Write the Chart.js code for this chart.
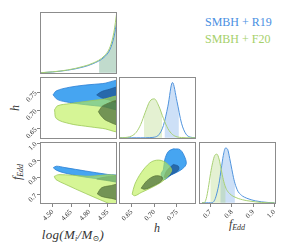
<!DOCTYPE html>
<html>
<head>
<meta charset="utf-8">
<script src="https://cdn.jsdelivr.net/npm/chart.js@4.4.1/dist/chart.umd.min.js"></script>
<style>
  html, body { margin: 0; padding: 0; background: #fff; }
  #fig { position: relative; width: 285px; height: 244px; overflow: hidden; font-family: 'Liberation Serif', 'DejaVu Serif', serif; }
  #fig canvas { position: absolute; }
  .axlab { position: absolute; font-style: italic; font-weight: normal; font-size: 12px; color: #333; white-space: nowrap; line-height: 1; transform: translate(-50%, -50%); }
  .axlab.rot { transform: translate(-50%, -50%) rotate(-90deg); }
  .axlab sub { font-size: 8px; vertical-align: -2px; line-height: 0; }
  .legend { position: absolute; left: 205px; font-size: 12px; line-height: 1; white-space: nowrap; }
</style>
</head>
<body>
<div id="fig">
  <div class="legend" style="top:16px;color:#4a90e2">SMBH + R19</div>
  <div class="legend" style="top:33px;color:#a5d06a">SMBH + F20</div>
  <div class="axlab" style="left:73px;top:234px;font-size:13px;letter-spacing:0.3px">log(M<sub>i</sub>/M<sub>⊙</sub>)</div>
  <div class="axlab" style="left:157px;top:228px">h</div>
  <div class="axlab" style="left:237px;top:224px">f<sub>Edd</sub></div>
  <div class="axlab rot" style="left:15px;top:108px">h</div>
  <div class="axlab rot" style="left:17px;top:172px">f<sub>Edd</sub></div>
</div>
<script>
// axis ranges and ticks
const massRange = [4.396, 5.026];
const hRange = [0.622, 0.792];
const eddRange = [0.646, 1.007];
const densRange = [-0.02, 1.0];
const massTicks = [4.50, 4.65, 4.80, 4.95];
const hTicks = [0.65, 0.70, 0.75];
const eddTicks = [0.7, 0.8, 0.9, 1.0];

// 1D marginals (x grid, density per run) and shaded 68% bands
const massGrid = [4.396, 4.50, 4.62, 4.75, 4.83, 4.92, 4.97, 5.00, 5.026];
const massR19 = [0.0, 0.014, 0.042, 0.095, 0.15, 0.255, 0.39, 0.58, 0.86];
const massF20 = [0.0, 0.016, 0.046, 0.105, 0.16, 0.275, 0.43, 0.66, 1.02];
const massBand = [4.88, 5.026];

const hGrid = [0.62, 0.63, 0.64, 0.65, 0.66, 0.67, 0.68, 0.69, 0.70, 0.71, 0.72, 0.73, 0.74, 0.75, 0.76, 0.77, 0.78, 0.79];
const hR19 = [0, 0, 0, 0, 0, 0, 0, 0.003, 0.01, 0.05, 0.20, 0.52, 0.91, 0.60, 0.24, 0.06, 0.01, 0];
const hF20 = [0, 0.002, 0.008, 0.03, 0.09, 0.22, 0.42, 0.60, 0.64, 0.52, 0.32, 0.15, 0.055, 0.015, 0.004, 0, 0, 0];
const hBandR19 = [0.723, 0.754];
const hBandF20 = [0.677, 0.717];

const eddGrid = [0.66, 0.67, 0.68, 0.69, 0.70, 0.71, 0.72, 0.73, 0.74, 0.75, 0.76, 0.77, 0.78, 0.79, 0.80, 0.81, 0.82, 0.83, 0.84, 0.85, 0.87, 0.89, 0.91, 0.94, 0.97, 1.00];
const eddR19 = [0, 0, 0, 0, 0, 0.005, 0.05, 0.16, 0.32, 0.55, 0.78, 0.90, 0.88, 0.73, 0.55, 0.38, 0.26, 0.18, 0.14, 0.11, 0.075, 0.05, 0.032, 0.015, 0.005, 0];
const eddF20 = [0, 0, 0.07, 0.25, 0.48, 0.66, 0.78, 0.80, 0.72, 0.55, 0.38, 0.26, 0.19, 0.15, 0.12, 0.10, 0.085, 0.07, 0.06, 0.05, 0.035, 0.025, 0.015, 0.005, 0, 0];
const eddBandR19 = [0.747, 0.814];
const eddBandF20 = [0.700, 0.770];

// 2D contours, [x, y] vertices of the 95% (outer) and 68% (inner) regions
const hMassR19Outer = [[4.503, 0.743], [4.53, 0.754], [4.64, 0.764], [4.77, 0.770], [4.91, 0.774], [5.06, 0.780], [5.06, 0.705], [4.91, 0.711], [4.77, 0.716], [4.64, 0.722], [4.54, 0.730]];
const hMassR19Inner = [[4.86, 0.743], [4.90, 0.752], [4.95, 0.757], [5.06, 0.764], [5.06, 0.722], [4.95, 0.730], [4.90, 0.735]];
const hMassF20Outer = [[4.515, 0.702], [4.54, 0.713], [4.64, 0.719], [4.77, 0.725], [4.91, 0.731], [5.06, 0.736], [5.06, 0.645], [4.91, 0.651], [4.77, 0.657], [4.64, 0.664], [4.53, 0.678]];
const hMassF20Inner = [[4.874, 0.697], [4.915, 0.714], [5.06, 0.726], [5.06, 0.662], [4.943, 0.672], [4.90, 0.684]];

const eddMassR19Outer = [[4.505, 0.857], [4.53, 0.866], [4.60, 0.858], [4.77, 0.838], [4.95, 0.818], [5.06, 0.808], [5.06, 0.772], [4.95, 0.786], [4.77, 0.802], [4.60, 0.826], [4.53, 0.843]];
const eddMassR19Inner = [[4.86, 0.792], [4.93, 0.803], [5.06, 0.810], [5.06, 0.776], [4.93, 0.784]];
const eddMassF20Outer = [[4.513, 0.807], [4.55, 0.817], [4.77, 0.808], [5.06, 0.798], [5.06, 0.62], [4.99, 0.64], [4.77, 0.707], [4.60, 0.762], [4.527, 0.788]];
const eddMassF20Inner = [[4.865, 0.705], [4.90, 0.740], [4.97, 0.752], [5.06, 0.760], [5.06, 0.675], [4.97, 0.680], [4.90, 0.690]];

const eddHR19Outer = [[0.742, 0.967], [0.757, 0.962], [0.768, 0.914], [0.770, 0.876], [0.758, 0.843], [0.738, 0.816], [0.720, 0.787], [0.715, 0.820], [0.720, 0.847], [0.723, 0.904], [0.731, 0.952]];
const eddHR19Inner = [[0.742, 0.876], [0.753, 0.866], [0.753, 0.843], [0.738, 0.818], [0.723, 0.799], [0.727, 0.838]];
const eddHF20Outer = [[0.651, 0.703], [0.657, 0.761], [0.671, 0.828], [0.690, 0.885], [0.705, 0.901], [0.720, 0.895], [0.734, 0.866], [0.738, 0.838], [0.723, 0.789], [0.701, 0.751], [0.671, 0.713], [0.657, 0.694]];
const eddHF20Inner = [[0.671, 0.738], [0.683, 0.780], [0.701, 0.809], [0.717, 0.803], [0.716, 0.780], [0.697, 0.751], [0.679, 0.732]];

// colours
const BLUE_LINE = '#4f93dd', BLUE_SHADE = 'rgba(74,144,226,0.28)';
const GREEN_LINE = '#a8d073', GREEN_SHADE = 'rgba(165,208,106,0.30)';
const BLUE_OUT = ['rgba(50,155,240,0.9)', '#2b7fd4'];
const BLUE_IN = ['rgba(35,95,160,0.85)', '#1f5a99'];
const GREEN_OUT = ['rgba(187,238,80,0.6)', '#9cc958'];
const GREEN_IN = ['rgba(49,83,42,0.6)', '#5d7a3a'];

// clip a dataset (fill and line) to the x interval given in dataset.band
const bandClip = {
    id: 'bandClip',
    beforeDatasetDraw(chart, args) {
        const range = chart.data.datasets[args.index].band;
        if (!range) return;
        const {ctx, chartArea: a, scales: {x}} = chart;
        const x0 = x.getPixelForValue(range[0]);
        const x1 = x.getPixelForValue(range[1]);
        ctx.save();
        ctx.beginPath();
        ctx.rect(x0, a.top, x1 - x0, a.bottom - a.top);
        ctx.clip();
    },
    afterDatasetDraw(chart, args) {
        if (chart.data.datasets[args.index].band) chart.ctx.restore();
    }
};
// the filler must come after the clip so the band fill gets clipped too
Chart.unregister(Chart.Filler);
Chart.register(bandClip, Chart.Filler);

const frame = {
    id: 'frame',
    afterDraw(chart) {
        const {ctx, chartArea: a} = chart;
        ctx.save();
        ctx.strokeStyle = '#8c8c8c';
        ctx.lineWidth = 1;
        ctx.strokeRect(a.left + 0.5, a.top + 0.5, a.right - a.left - 1, a.bottom - a.top - 1);
        ctx.restore();
    }
};

const pts = (xs, ys) => xs.map((x, i) => ({x, y: ys[i]}));
const loop = poly => poly.concat([poly[0]]).map(([x, y]) => ({x, y}));

function curve(xs, ys, color) {
    return {data: pts(xs, ys), borderColor: color, borderWidth: 1, fill: false, cubicInterpolationMode: 'monotone', pointRadius: 0};
}
function band(xs, ys, range, color) {
    return {data: pts(xs, ys), borderWidth: 0, borderColor: 'rgba(0,0,0,0)', backgroundColor: color, fill: 'origin', cubicInterpolationMode: 'monotone', pointRadius: 0, band: range};
}
function region(poly, style) {
    return {data: loop(poly), backgroundColor: style[0], borderColor: style[1], borderWidth: 0.8, fill: 'shape', tension: 0.35, pointRadius: 0};
}

const fig = document.getElementById('fig');
const colLeft = [40, 119, 199], rowTop = [12, 77, 142], W = 77, H = 62;
const PAD_L = 45, PAD_T = 10, PAD_R = 10, PAD_B = 35;

function axis(range, ticks, digits, labelled, isX) {
    return {
        type: 'linear', min: range[0], max: range[1],
        afterBuildTicks: s => { s.ticks = ticks.map(v => ({value: v})); },
        afterFit: s => {
            if (isX) s.height = PAD_B; else s.width = PAD_L;
            s.paddingLeft = s.paddingRight = s.paddingTop = s.paddingBottom = 0;
        },
        border: {display: false},
        grid: {display: labelled, drawOnChartArea: false, tickLength: 3, color: '#666', lineWidth: 0.8},
        ticks: {
            display: labelled, autoSkip: false, minRotation: 45, maxRotation: 45, padding: 1,
            color: '#333', font: {family: "'Liberation Serif', serif", size: 7},
            callback: v => v.toFixed(digits)
        }
    };
}

function makePanel(col, row, xAxis, yAxis, layers) {
    const canvas = document.createElement('canvas');
    canvas.width = W + PAD_L + PAD_R;
    canvas.height = H + PAD_T + PAD_B;
    canvas.style.width = canvas.width + 'px';
    canvas.style.height = canvas.height + 'px';
    canvas.style.left = (colLeft[col] - PAD_L) + 'px';
    canvas.style.top = (rowTop[row] - PAD_T) + 'px';
    fig.appendChild(canvas);
    new Chart(canvas, {
        type: 'line',
        // Chart.js paints the first dataset on top, layers are listed bottom to top
        data: {datasets: layers.slice().reverse()},
        options: {
            responsive: false,
            animation: false,
            devicePixelRatio: 1,
            layout: {padding: {left: 0, top: PAD_T, right: PAD_R, bottom: 0}},
            plugins: {legend: {display: false}, tooltip: {enabled: false}},
            scales: {x: xAxis, y: yAxis}
        },
        plugins: [frame]
    });
}

// diagonal: marginals
makePanel(0, 0, axis(massRange, massTicks, 2, false, true), axis(densRange, [], 0, false, false), [
    band(massGrid, massR19, massBand, BLUE_SHADE),
    band(massGrid, massF20, massBand, GREEN_SHADE),
    curve(massGrid, massR19, BLUE_LINE),
    curve(massGrid, massF20, GREEN_LINE)
]);
makePanel(1, 1, axis(hRange, hTicks, 2, false, true), axis(densRange, [], 0, false, false), [
    band(hGrid, hR19, hBandR19, BLUE_SHADE),
    band(hGrid, hF20, hBandF20, GREEN_SHADE),
    curve(hGrid, hR19, BLUE_LINE),
    curve(hGrid, hF20, GREEN_LINE)
]);
makePanel(2, 2, axis(eddRange, eddTicks, 1, true, true), axis(densRange, [], 0, false, false), [
    band(eddGrid, eddR19, eddBandR19, BLUE_SHADE),
    band(eddGrid, eddF20, eddBandF20, GREEN_SHADE),
    curve(eddGrid, eddR19, BLUE_LINE),
    curve(eddGrid, eddF20, GREEN_LINE)
]);

// off-diagonal: joint contours
makePanel(0, 1, axis(massRange, massTicks, 2, false, true), axis(hRange, hTicks, 2, true, false), [
    region(hMassR19Outer, BLUE_OUT), region(hMassR19Inner, BLUE_IN),
    region(hMassF20Outer, GREEN_OUT), region(hMassF20Inner, GREEN_IN)
]);
makePanel(0, 2, axis(massRange, massTicks, 2, true, true), axis(eddRange, eddTicks, 1, true, false), [
    region(eddMassR19Outer, BLUE_OUT), region(eddMassR19Inner, BLUE_IN),
    region(eddMassF20Outer, GREEN_OUT), region(eddMassF20Inner, GREEN_IN)
]);
makePanel(1, 2, axis(hRange, hTicks, 2, true, true), axis(eddRange, eddTicks, 1, false, false), [
    region(eddHR19Outer, BLUE_OUT), region(eddHR19Inner, BLUE_IN),
    region(eddHF20Outer, GREEN_OUT), region(eddHF20Inner, GREEN_IN)
]);
</script>
</body>
</html>
